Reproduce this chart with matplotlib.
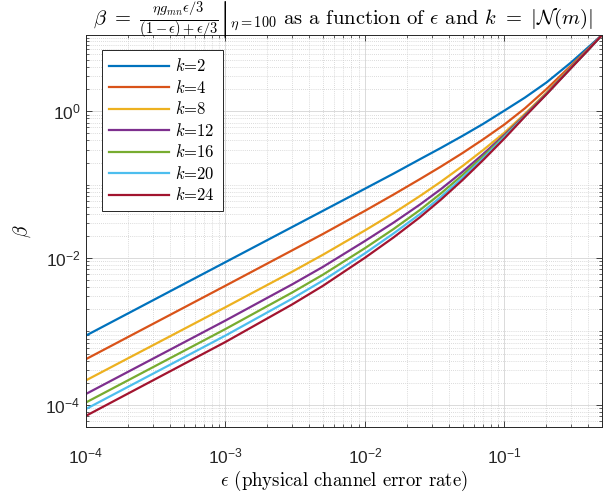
import numpy as np
import matplotlib
matplotlib.use("Agg")
import matplotlib.pyplot as plt
from matplotlib.ticker import LogLocator, FuncFormatter, NullFormatter

plt.rcParams['mathtext.fontset'] = 'custom'
plt.rcParams['mathtext.rm'] = 'Liberation Sans'
plt.rcParams['mathtext.it'] = 'Liberation Sans:italic'
plt.rcParams['font.family'] = ['Liberation Sans', 'DejaVu Sans']

# ---- data ----
eps = [1e-4, 1e-3, 0.003, 0.005, 0.01, 0.016, 0.0248, 0.035, 0.05, 0.07,
       0.1, 0.14, 0.2, 0.3, 0.4, 0.5]
k_labels = ['2', '4', '8', '12', '16', '20', '24']
beta_k2 = [8.8e-4, 8.8e-3, 0.0264, 0.044, 0.088, 0.141, 0.222, 0.316, 0.461, 0.668,
           1.02, 1.53, 2.46, 4.61, 7.47, 10.9]
beta_k4 = [4.2e-4, 4.2e-3, 0.0127, 0.0213, 0.0440, 0.0731, 0.119, 0.176, 0.269, 0.411,
           0.66, 1.093, 2.0, 4.18, 7.12, 10.9]
beta_k8 = [2.16e-4, 2.14e-3, 6.5e-3, 0.0111, 0.0238, 0.0408, 0.0700, 0.1095, 0.179, 0.2937,
           0.51, 0.92, 1.78, 4.0, 6.98, 10.9]
beta_k12 = [1.41e-4, 1.41e-3, 4.37e-3, 7.59e-3, 0.01708, 0.0303, 0.0536, 0.0868, 0.1493, 0.2584,
            0.477, 0.885, 1.74, 3.93, 6.93, 10.9]
beta_k16 = [1.08e-4, 1.08e-3, 3.385e-3, 5.94e-3, 0.01364, 0.02478, 0.0452, 0.0758, 0.1351, 0.241,
            0.458, 0.865, 1.72, 3.9, 6.9, 10.9]
beta_k20 = [8.8e-5, 8.8e-4, 2.79e-3, 4.94e-3, 0.0116, 0.02157, 0.0398, 0.0679, 0.1236, 0.2266,
            0.446, 0.855, 1.71, 3.88, 6.89, 10.9]
beta_k24 = [7.1e-5, 7.2e-4, 2.33e-3, 4.19e-3, 0.0101, 0.01905, 0.0360, 0.0624, 0.1153, 0.2141,
            0.426, 0.845, 1.70, 3.86, 6.88, 10.9]
series = [beta_k2, beta_k4, beta_k8, beta_k12, beta_k16, beta_k20, beta_k24]

colors = ['#0072BD', '#D95319', '#EDB120', '#7E2F8E', '#77AC30', '#4DBEEE', '#A2142F']

fig = plt.figure(figsize=(6.07, 4.96), dpi=100)
ax = fig.add_axes([86/607, 69/496, 516/607, 392/496])

for vals, lab, c in zip(series, k_labels, colors):
    ax.loglog(eps, vals, color=c, lw=1.6, label=r'$k$=' + lab)

ax.set_xlim(1e-4, 0.5)
ax.set_ylim(5e-5, 10.9)

ax.xaxis.set_major_locator(LogLocator(base=10, numticks=10))
ax.xaxis.set_minor_locator(LogLocator(base=10, subs=np.arange(1, 10), numticks=50))
ax.yaxis.set_major_locator(LogLocator(base=100, numticks=10))
ax.yaxis.set_minor_locator(LogLocator(base=10, subs=np.arange(1, 10), numticks=50))

def fmt(v, pos):
    e = int(np.round(np.log10(v)))
    return r'$\mathregular{10^{%d}}$' % e

ax.xaxis.set_major_formatter(FuncFormatter(fmt))
ax.yaxis.set_major_formatter(FuncFormatter(fmt))
ax.xaxis.set_minor_formatter(NullFormatter())
ax.yaxis.set_minor_formatter(NullFormatter())

ax.grid(True, which='major', color='#d4d4d4', lw=0.6, ls='-')
ax.grid(True, which='minor', color='#cfcfcf', lw=0.6, ls=(0, (1, 1.5)))
ax.set_axisbelow(True)

ax.tick_params(which='both', direction='in', top=True, right=True, colors='#262626',
               labelsize=12.5)
ax.tick_params(which='major', length=4, width=0.6)
ax.tick_params(which='minor', length=2, width=0.5)
ax.tick_params(axis='x', pad=14)
ax.tick_params(axis='y', pad=4)
for s in ax.spines.values():
    s.set_color('#262626')
    s.set_linewidth(0.7)

ax.set_xlabel(r'$\epsilon$ (physical channel error rate)', fontsize=13.5,
              family='cmr10', math_fontfamily='cm', labelpad=2)
ax.set_ylabel(r'$\beta$', fontsize=14, math_fontfamily='cm', labelpad=9)

fig.text(343/607, 1 - 24.5/496,
         r'$\left.\beta\ =\ \frac{\eta g_{mn}\epsilon/3}{(1-\epsilon)+\epsilon/3}\right|_{\eta=100}$'
         r' as a function of $\epsilon$ and $k\ =\ |\mathcal{N}(m)|$',
         fontsize=14.8, family='cmr10', math_fontfamily='cm', ha='center', va='baseline')

leg = ax.legend(loc='upper left', bbox_to_anchor=(0.031, 0.962),
                prop={'family': 'cmr10', 'size': 12},
                handlelength=3.6, handletextpad=0.35, labelspacing=0.27,
                borderpad=0.45, fancybox=False, framealpha=1, edgecolor='#262626',
                borderaxespad=0)
for t in leg.get_texts():
    t.set_math_fontfamily('cm')
leg.get_frame().set_linewidth(0.7)

fig.savefig('out.png', dpi=100)
